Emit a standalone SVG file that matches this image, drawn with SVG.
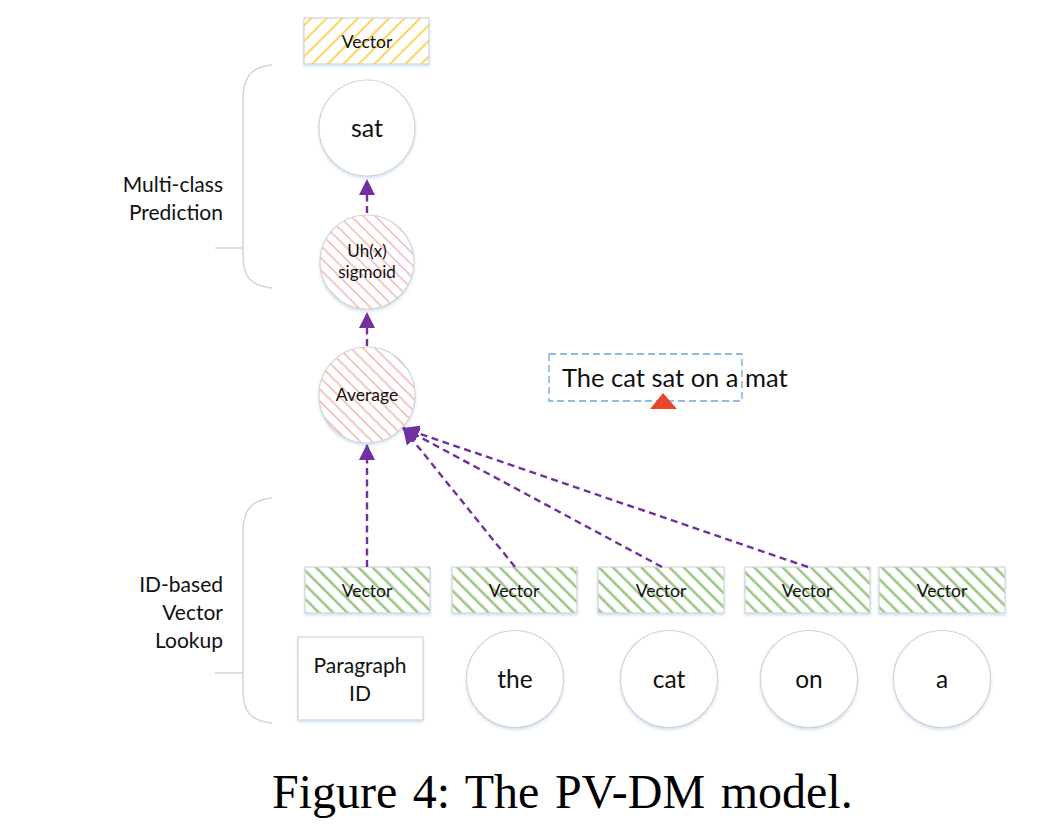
<svg xmlns="http://www.w3.org/2000/svg" width="1050" height="831" viewBox="0 0 1050 831">
<style>
.lbl{font-family:Lato,"Liberation Sans",sans-serif;fill:#111;text-anchor:middle}
.side{font-family:Lato,"Liberation Sans",sans-serif;fill:#111;text-anchor:end;font-size:21px}
.node{stroke:#d4d4d4;stroke-width:1.2}
.brace{fill:none;stroke:#d4d4d4;stroke-width:1.5}
.conn{fill:none;stroke:#7030a0;stroke-width:2.4;stroke-dasharray:7 4.5}
</style>
<defs>
<pattern id="hRed" width="8.5" height="8.5" patternUnits="userSpaceOnUse" patternTransform="rotate(-45)">
<rect width="8.5" height="8.5" fill="#fff"/>
<line x1="2" y1="0" x2="2" y2="8.5" stroke="#f29a9a" stroke-width="1.1"/>
</pattern>
<pattern id="hGreen" width="10" height="10" patternUnits="userSpaceOnUse" patternTransform="rotate(-45)">
<rect width="10" height="10" fill="#fff"/>
<line x1="2" y1="0" x2="2" y2="10" stroke="#5e9e3a" stroke-width="1.2"/>
<line x1="3.5" y1="0" x2="3.5" y2="10" stroke="#b7d9a3" stroke-width="0.8"/>
</pattern>
<pattern id="hYellow" width="11" height="11" patternUnits="userSpaceOnUse" patternTransform="rotate(45)">
<rect width="11" height="11" fill="#fff"/>
<line x1="2" y1="0" x2="2" y2="11" stroke="#ffbf00" stroke-width="1.3"/>
</pattern>
<filter id="sh" x="-20%" y="-20%" width="140%" height="150%">
<feDropShadow dx="0" dy="2" stdDeviation="1.5" flood-color="#9dc3e6" flood-opacity="0.45"/>
</filter>
<marker id="arr" markerUnits="userSpaceOnUse" markerWidth="16" markerHeight="16" viewBox="0 0 14 14" refX="14" refY="7" orient="auto">
<path d="M0,0 L14,7 L0,14 Z" fill="#7030a0"/>
</marker>
</defs>
<rect width="1050" height="831" fill="#fff"/>

<g id="braces">
<path class="brace" d="M272,65 C250,67 243,78 243,100 L243,255 C243,276 250,286 272,288"/>
<path class="brace" d="M215,248 L243,248"/>
<path class="brace" d="M272,498 C250,500 243,511 243,533 L243,690 C243,711 250,721 272,723"/>
<path class="brace" d="M215,673 L243,673"/>
</g>

<g id="label-multiclass">
<text class="side" x="223" y="192">Multi-class</text>
<text class="side" x="223" y="220">Prediction</text>
</g>
<g id="label-lookup">
<text class="side" x="223" y="592">ID-based</text>
<text class="side" x="223" y="620">Vector</text>
<text class="side" x="223" y="648">Lookup</text>
</g>

<g id="vec-out">
<rect class="node" x="304" y="18" width="125" height="46" fill="url(#hYellow)" filter="url(#sh)"/>
<text class="lbl" x="367" y="48" font-size="17.5">Vector</text>
</g>
<g id="sat">
<circle class="node" cx="367" cy="128" r="48" fill="#fff" filter="url(#sh)"/>
<text class="lbl" x="367" y="137" font-size="25">sat</text>
</g>
<g id="sigmoid">
<circle class="node" cx="367" cy="262" r="47" fill="url(#hRed)" filter="url(#sh)"/>
<text class="lbl" x="367" y="257" font-size="17">Uh(x)</text>
<text class="lbl" x="367" y="278" font-size="17">sigmoid</text>
</g>
<g id="average">
<circle class="node" cx="367" cy="395" r="48" fill="url(#hRed)" filter="url(#sh)"/>
<text class="lbl" x="367" y="401" font-size="17.5">Average</text>
</g>

<g id="sentence">
<rect x="549" y="354" width="193" height="47" fill="none" stroke="#6fa4dc" stroke-width="1.3" stroke-dasharray="7 4"/>
<text x="562" y="387" font-family="Lato,'Liberation Sans',sans-serif" font-size="25.5" fill="#111">The cat sat on a mat</text>
<path d="M650,409 L663,393 L677,409 Z" fill="#e8452c"/>
</g>

<g id="vec-par">
<rect class="node" x="305" y="567" width="125" height="46" fill="url(#hGreen)" filter="url(#sh)"/>
<text class="lbl" x="367" y="597" font-size="17.5">Vector</text>
</g>
<g id="vec-the">
<rect class="node" x="452" y="567" width="125" height="46" fill="url(#hGreen)" filter="url(#sh)"/>
<text class="lbl" x="514" y="597" font-size="17.5">Vector</text>
</g>
<g id="vec-cat">
<rect class="node" x="598" y="567" width="126" height="46" fill="url(#hGreen)" filter="url(#sh)"/>
<text class="lbl" x="661" y="597" font-size="17.5">Vector</text>
</g>
<g id="vec-on">
<rect class="node" x="745" y="567" width="125" height="46" fill="url(#hGreen)" filter="url(#sh)"/>
<text class="lbl" x="807" y="597" font-size="17.5">Vector</text>
</g>
<g id="vec-a">
<rect class="node" x="879" y="567" width="126" height="46" fill="url(#hGreen)" filter="url(#sh)"/>
<text class="lbl" x="942" y="597" font-size="17.5">Vector</text>
</g>

<g id="paragraph-id">
<rect class="node" x="298" y="637" width="125" height="83" fill="#fff" filter="url(#sh)"/>
<text class="lbl" x="360" y="673" font-size="21">Paragraph</text>
<text class="lbl" x="360" y="701" font-size="21">ID</text>
</g>
<g id="w-the">
<circle class="node" cx="515" cy="679" r="48.5" fill="#fff" filter="url(#sh)"/>
<text class="lbl" x="515" y="688" font-size="24.5">the</text>
</g>
<g id="w-cat">
<circle class="node" cx="669" cy="679" r="48.5" fill="#fff" filter="url(#sh)"/>
<text class="lbl" x="669" y="688" font-size="24.5">cat</text>
</g>
<g id="w-on">
<circle class="node" cx="809" cy="679" r="48.5" fill="#fff" filter="url(#sh)"/>
<text class="lbl" x="809" y="688" font-size="24.5">on</text>
</g>
<g id="w-a">
<circle class="node" cx="942" cy="679" r="48.5" fill="#fff" filter="url(#sh)"/>
<text class="lbl" x="942" y="688" font-size="24.5">a</text>
</g>

<g id="connectors">
<line class="conn" x1="367" y1="213" x2="367" y2="179" marker-end="url(#arr)"/>
<line class="conn" x1="367" y1="346" x2="367" y2="312" marker-end="url(#arr)"/>
<line class="conn" x1="367" y1="567" x2="367" y2="444" marker-end="url(#arr)"/>
<line class="conn" x1="515" y1="567" x2="403" y2="428" marker-end="url(#arr)"/>
<line class="conn" x1="662" y1="567" x2="403" y2="428" marker-end="url(#arr)"/>
<line class="conn" x1="808" y1="567" x2="403" y2="428" marker-end="url(#arr)"/>
</g>

<text id="caption" x="272" y="808" font-family="'Liberation Serif',serif" font-size="48" word-spacing="3.5" fill="#000">Figure 4: The PV-DM model.</text>
</svg>
